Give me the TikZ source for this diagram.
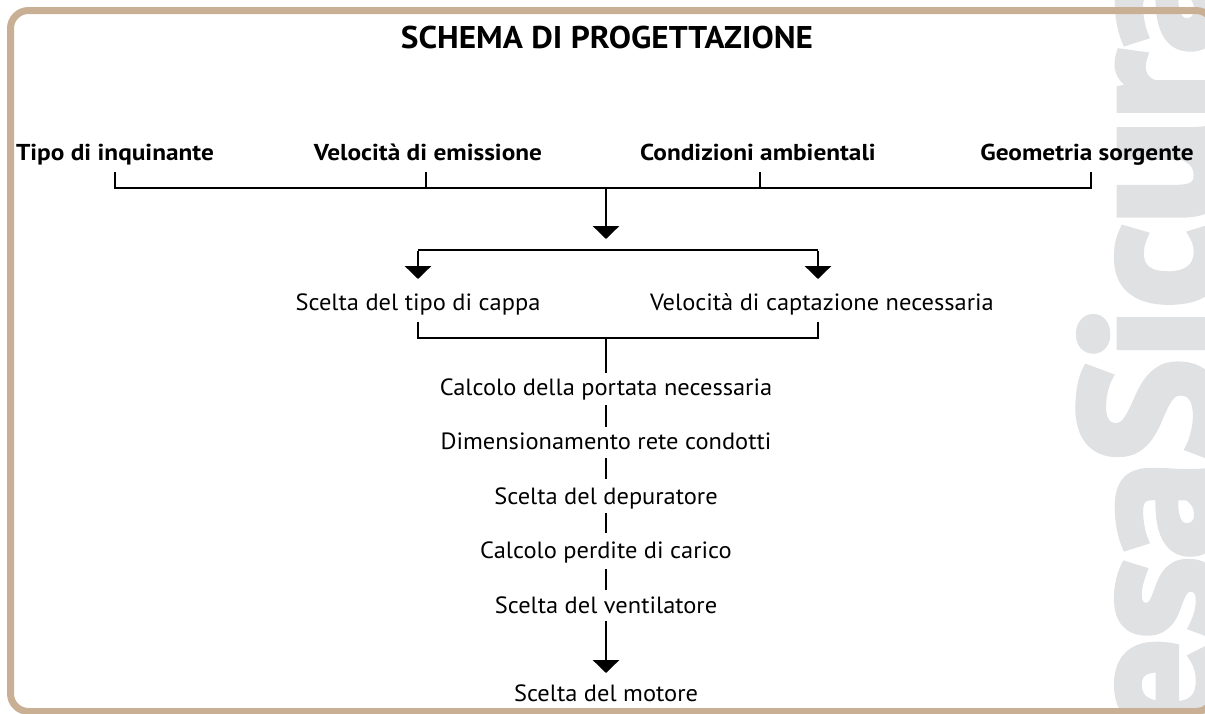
\documentclass[tikz,border=0pt]{standalone}
\usepackage{fontspec}
\setmainfont{PT Sans}
\newfontfamily\lblfont{PT Sans}[FakeStretch=1.04]
\newfontfamily\hdfont{PT Sans}[FakeStretch=1.1]
\newfontfamily\ttlfont{PT Sans}[FakeStretch=1.06]
\newfontfamily\wmfont{PT Sans Bold}[FakeBold=4]
\usetikzlibrary{arrows.meta,calc}
\definecolor{framecol}{RGB}{201,176,148}
\definecolor{wmcol}{RGB}{224,225,227}
\begin{document}
\begin{tikzpicture}[x=1pt,y=-1pt,
 ln/.style={line width=2.9pt},
 arr/.style={line width=2.9pt,-{Triangle[width=26pt,length=13pt]}},
 hd/.style={font=\hdfont\fontsize{23}{26}\selectfont\bfseries,anchor=base,inner sep=0pt},
 lbl/.style={font=\lblfont\fontsize{23.5}{26}\selectfont,anchor=base,inner sep=0pt},
 ttl/.style={font=\ttlfont\fontsize{31.4}{36}\selectfont\bfseries,anchor=base,inner sep=0pt}]
\useasboundingbox (0,0) rectangle (1205,713);
\begin{scope}
\clip (0,0) rectangle (1205,713);
\node[font=\wmfont\fontsize{193}{193}\selectfont, text=wmcol, rotate=90, anchor=base west, inner sep=0pt] (wmk) at (1217,737) {esaSicura};
\draw[framecol, line width=7pt, rounded corners=18pt] (10.5,10.5) rectangle (1214,711.5);
\end{scope}
% title
\node[ttl] (title) at (607,48) {SCHEMA DI PROGETTAZIONE};
% top inputs
\node[hd] (t1) at (115,160) {Tipo di inquinante};
\node[hd] (t2) at (428,160) {Velocità di emissione};
\node[hd] (t3) at (758,160) {Condizioni ambientali};
\node[hd] (t4) at (1087,160) {Geometria sorgente};
\coordinate (bus) at (606,188);
\coordinate (bustip) at (606,239);
\draw[ln] (t1.base) ++(0,12) |- (bus);
\draw[ln] (t4.base) ++(4,12) |- (bus);
\draw[ln] (t2.base) ++(-2,12) -- ++(0,16);
\draw[ln] (t3.base) ++(2,12) -- ++(0,16);
\draw[arr] (bus) -- (bustip);
% branch
\coordinate (cL) at (418,250);
\coordinate (cR) at (818,250);
\coordinate (tipL) at (418,279);
\coordinate (tipR) at (818,279);
\draw[ln] (cL) -- (cR);
\draw[arr] ([yshift=-1.45pt]cL) -- (tipL);
\draw[arr] ([yshift=-1.45pt]cR) -- (tipR);
\node[lbl] (s1) at (418,310) {Scelta del tipo di cappa};
\node[lbl] (s2) at (822,310) {Velocità di captazione necessaria};
% bracket
\coordinate (tk1) at (418,322);
\coordinate (tk2) at (818,322);
\coordinate (brk) at (606,338);
\draw[ln] (tk1) |- (brk) -| (tk2);
% chain
\node[lbl] (m1) at (606,395) {Calcolo della portata necessaria};
\node[lbl] (m2) at (606,449) {Dimensionamento rete condotti};
\node[lbl] (m3) at (606,504) {Scelta del depuratore};
\node[lbl] (m4) at (606,558) {Calcolo perdite di carico};
\node[lbl] (m5) at (606,613) {Scelta del ventilatore};
\node[lbl] (m6) at (606,701) {Scelta del motore};
\draw[ln] (brk) -- ($(m1.base)+(0,-22)$);
\draw[ln] ($(m1.base)+(0,10)$) -- ($(m2.base)+(0,-22)$);
\draw[ln] ($(m2.base)+(0,9)$) -- ($(m3.base)+(0,-25)$);
\draw[ln] ($(m3.base)+(0,9)$) -- ($(m4.base)+(0,-25)$);
\draw[ln] ($(m4.base)+(0,11)$) -- ($(m5.base)+(0,-23)$);
\draw[arr] ($(m5.base)+(0,8)$) -- ($(m6.base)+(0,-28)$);
\end{tikzpicture}
\end{document}
